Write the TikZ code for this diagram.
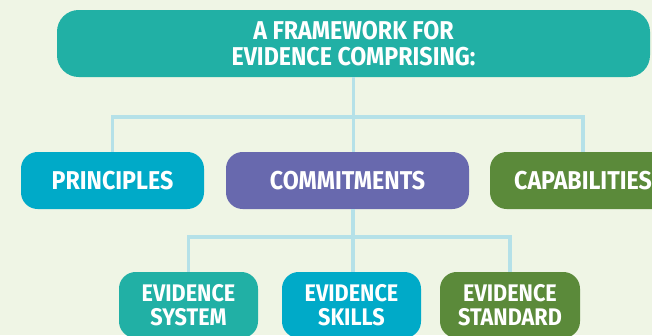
\documentclass[tikz,border=0pt]{standalone}
\usepackage{fontspec}
\newfontfamily\boxfont{Fira Sans}[FakeStretch=0.9]
\definecolor{bgcolor}{HTML}{EFF5E5}
\definecolor{linkblue}{HTML}{B5E1E8}
\definecolor{tealbox}{HTML}{21B0A5}
\definecolor{cyanbox}{HTML}{00AAC8}
\definecolor{purplebox}{HTML}{6869AE}
\definecolor{greenbox}{HTML}{5B8A3A}
\begin{document}
\begin{tikzpicture}[
    x=0.03cm, y=-0.03cm,
    box/.style={rectangle, rounded corners=0.5cm, text=white, align=center, inner sep=0pt,
        minimum height=57*0.03cm, font=\boxfont\bfseries\fontsize{22}{22}\selectfont},
    smallbox/.style={box, minimum height=66*0.03cm, minimum width=139*0.03cm,
        font=\boxfont\bfseries\fontsize{20.5}{20.5}\selectfont},
    link/.style={line width=3.4pt, draw=linkblue}
]
    \useasboundingbox (0,0) rectangle (652,335);
    \clip (0,0) rectangle (652,335);
    \fill[bgcolor] (0,0) rectangle (652,335);

    % Framework
    \node[box, fill=tealbox, rounded corners=0.65cm, minimum width=593*0.03cm, minimum height=67*0.03cm]
        (frame) at (353.5,43.5) {A FRAMEWORK FOR\\EVIDENCE COMPRISING:};

    % Second row
    \node[box, fill=cyanbox, minimum width=183*0.03cm] (principles) at (112.5,180.5) {PRINCIPLES};
    \node[box, fill=purplebox, minimum width=243*0.03cm] (commitments) at (347.5,180.5) {COMMITMENTS};
    \node[box, fill=greenbox, minimum width=186*0.03cm] (capabilities) at (583,180.5) {CAPABILITIES};

    % Third row
    \node[smallbox, fill=tealbox] (system) at (188.5,305) {EVIDENCE\\SYSTEM};
    \node[smallbox, fill=cyanbox] (skills) at (351.5,305) {EVIDENCE\\SKILLS};
    \node[smallbox, fill=greenbox, minimum width=140*0.03cm] (standard) at (510,305) {EVIDENCE\\STANDARD};

    % Links
    \coordinate (busA) at (353,117);
    \coordinate (busB) at (353,237);
    \draw[link] (frame.south) -- (frame.south |- commitments.north);
    \draw[link] (principles.north) |- (busA) -| (capabilities.north);
    \draw[link] (busB |- commitments.south) -- (busB |- skills.north);
    \draw[link] (system.north) |- (busB) -| (standard.north);
\end{tikzpicture}
\end{document}
